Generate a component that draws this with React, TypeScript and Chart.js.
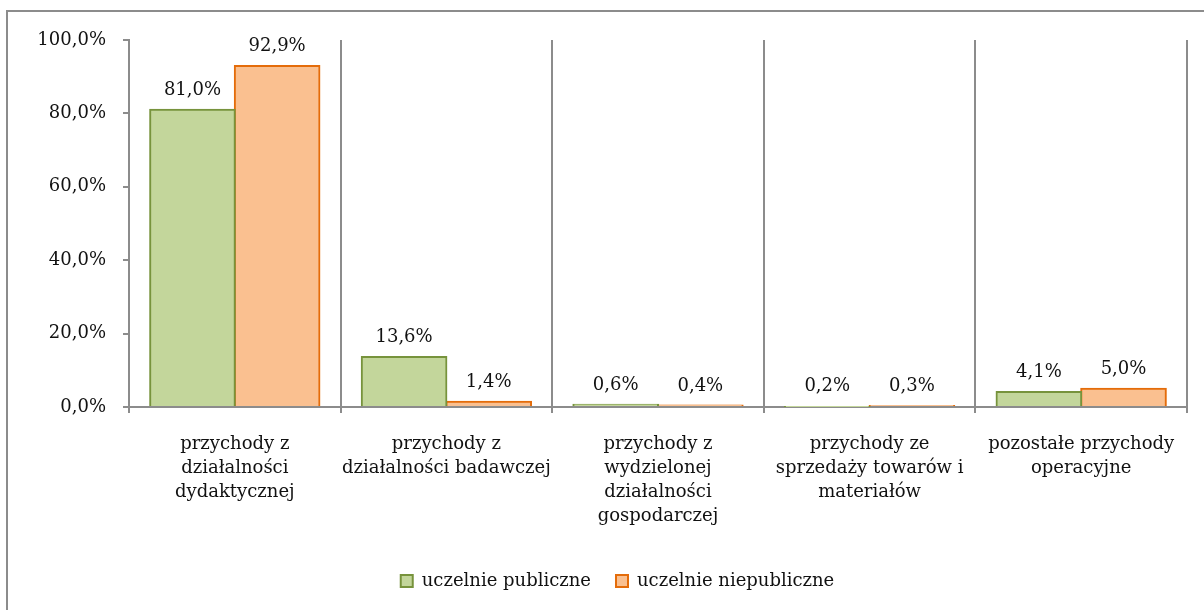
import React, { useEffect, useRef } from "react";
import { Chart, registerables } from "chart.js";

Chart.register(...registerables);

const categories: string[][] = [
  ["przychody z", "działalności", "dydaktycznej"],
  ["przychody z", "działalności badawczej"],
  ["przychody z", "wydzielonej", "działalności", "gospodarczej"],
  ["przychody ze", "sprzedaży towarów i", "materiałów"],
  ["pozostałe przychody", "operacyjne"],
];

const publicValues: number[] = [81.0, 13.6, 0.6, 0.2, 4.1];
const privateValues: number[] = [92.9, 1.4, 0.4, 0.3, 5.0];

const seriesNames: string[] = ["uczelnie publiczne", "uczelnie niepubliczne"];

const FONT_FAMILY = "'DejaVu Serif', serif";
const FONT_SIZE = 18;
const GRID = "#8c8c8c";
const LEGEND_SHIFT = 24;

const fmt = (v: number) => v.toFixed(1).replace(".", ",") + "%";

// Writes each bar's value above it
const valueLabels = {
  id: "valueLabels",
  afterDatasetsDraw(chart: any) {
    const ctx = chart.ctx;
    ctx.save();
    ctx.font = `${FONT_SIZE}px ${FONT_FAMILY}`;
    ctx.fillStyle = "#111";
    ctx.textAlign = "center";
    ctx.textBaseline = "alphabetic";
    chart.data.datasets.forEach((ds: any, di: number) => {
      const meta = chart.getDatasetMeta(di);
      meta.data.forEach((bar: any, i: number) => {
        ctx.fillText(fmt(ds.data[i]), bar.x, bar.y - 15);
      });
    });
    ctx.restore();
  },
};

// Centres the legend row under the whole framed box rather than the canvas
const legendShift = {
  id: "legendShift",
  afterLayout(chart: any) {
    const lg = chart.legend;
    if (lg) {
      lg.left += LEGEND_SHIFT;
      lg.right += LEGEND_SHIFT;
    }
  },
};

export default function App() {
  const ref = useRef<HTMLCanvasElement | null>(null);

  useEffect(() => {
    if (!ref.current) return;
    const chart = new Chart(ref.current, {
      type: "bar",
      data: {
        labels: categories,
        datasets: [
          {
            label: seriesNames[0],
            data: publicValues,
            backgroundColor: "#C3D69B",
            borderColor: "#77933C",
            borderWidth: 2,
            inflateAmount: 1,
            categoryPercentage: 0.8,
            barPercentage: 1.0,
          },
          {
            label: seriesNames[1],
            data: privateValues,
            backgroundColor: "#FAC090",
            borderColor: "#E46C0A",
            borderWidth: 2,
            inflateAmount: 1,
            categoryPercentage: 0.8,
            barPercentage: 1.0,
          },
        ],
      },
      plugins: [valueLabels, legendShift],
      options: {
        responsive: false,
        animation: false,
        layout: { padding: { left: 0, top: 40, right: 17, bottom: 10 } },
        plugins: {
          tooltip: { enabled: false },
          legend: {
            position: "bottom",
            labels: {
              boxWidth: 12,
              boxHeight: 12,
              padding: 25,
              color: "#111",
              font: { family: FONT_FAMILY, size: FONT_SIZE },
            },
          },
        },
        scales: {
          x: {
            offset: true,
            grid: {
              offset: true,
              display: true,
              drawOnChartArea: true,
              drawTicks: true,
              tickLength: 6,
              color: GRID,
              lineWidth: 2,
            },
            border: { display: true, color: GRID, width: 2 },
            ticks: {
              color: "#111",
              padding: 19,
              maxRotation: 0,
              autoSkip: false,
              font: { family: FONT_FAMILY, size: FONT_SIZE, lineHeight: 24 / FONT_SIZE },
            },
            afterFit: (scale: any) => {
              scale.height = 140;
            },
          },
          y: {
            min: 0,
            max: 100,
            ticks: {
              stepSize: 20,
              padding: 17,
              color: "#111",
              font: { family: FONT_FAMILY, size: FONT_SIZE },
              callback: (v: any) => fmt(Number(v)),
            },
            grid: {
              display: true,
              drawOnChartArea: false,
              drawTicks: true,
              tickLength: 6,
              color: GRID,
              lineWidth: 2,
            },
            border: { display: true, color: GRID, width: 2 },
            afterFit: (scale: any) => {
              scale.width = 129;
            },
          },
        },
      },
    });
    return () => chart.destroy();
  }, []);

  return (
    <div style={{ position: "fixed", inset: 0, overflow: "hidden", background: "#fff" }}>
      <canvas
        ref={ref}
        width={1204}
        height={610}
        style={{ position: "absolute", left: 0, top: 0, display: "block" }}
      />
      <div
        style={{
          position: "absolute",
          left: 6,
          top: 10,
          width: 1300,
          height: 700,
          border: `2px solid ${GRID}`,
          pointerEvents: "none",
        }}
      />
    </div>
  );
}
